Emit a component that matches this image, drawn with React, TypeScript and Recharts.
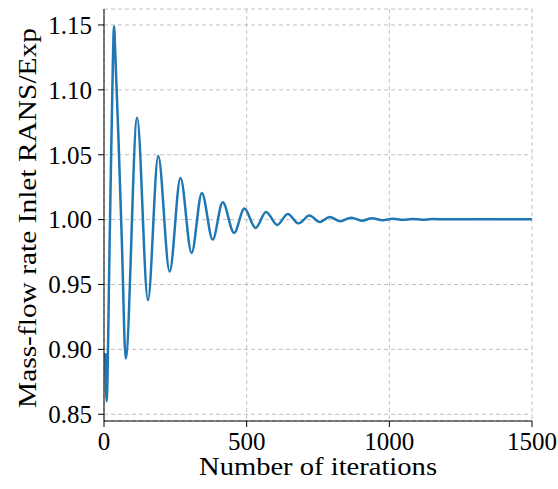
import React from 'react';
import { LineChart, Line, XAxis, YAxis, CartesianGrid } from 'recharts';

const iterations = [5, 9, 20, 31, 35, 40, 50, 63, 76, 116, 154, 190, 230, 268, 307, 343, 381, 416, 456, 492, 531, 568, 607, 644, 682, 720, 756, 791, 828, 866, 904, 939, 977, 1012, 1046, 1080, 1115, 1150, 1200, 1300, 1400, 1500];
const ratio = [0.897, 0.86, 0.985, 1.12, 1.149, 1.125, 1.067, 0.98, 0.893, 1.0785, 0.938, 1.049, 0.96, 1.032, 0.9743, 1.0206, 0.9846, 1.0134, 0.9897, 1.0085, 0.9936, 1.0059, 0.9959, 1.0044, 0.9971, 1.0031, 0.9982, 1.0021, 0.9987, 1.0015, 0.9992, 1.001, 0.9995, 1.0007, 0.9998, 1.0005, 0.9999, 1.0004, 1.0002, 1.0003, 1.0003, 1.0003];
const xTicks = [0, 500, 1000, 1500];
const yTicks = [0.85, 0.9, 0.95, 1.0, 1.05, 1.1, 1.15];

const xLabel = 'Number of iterations';
const yLabel = 'Mass-flow rate Inlet RANS/Exp';

const data = iterations.map((it, i) => ({ iter: it, ratio: ratio[i] }));

const FONT = '"Liberation Serif", serif';
const FS = 25;

const YLabel = () => {
  const cx = 36;
  const cy = 218;
  return (
    <text x={cx} y={cy} transform={`rotate(-90, ${cx}, ${cy})`} textAnchor="middle" fill="#000" fontFamily={FONT} fontSize={FS} textLength={380} lengthAdjust="spacingAndGlyphs">
      {yLabel}
    </text>
  );
};

const XLabel = () => {
  return (
    <text x={318} y={475} textAnchor="middle" fill="#000" fontFamily={FONT} fontSize={FS} textLength={238} lengthAdjust="spacingAndGlyphs">
      {xLabel}
    </text>
  );
};

export default function App() {
  return (
    <div style={{ position: 'absolute', left: 0, top: 0, background: '#fff' }}>
      <LineChart width={558} height={489} data={data} margin={{ top: 9, right: 26, bottom: 0, left: 0 }}>
        <CartesianGrid stroke="#b0b0b0" strokeWidth={0.8} strokeDasharray="4 3" />
        <XAxis
          dataKey="iter"
          type="number"
          domain={[0, 1500]}
          ticks={xTicks}
          height={68}
          tickSize={6}
          tickMargin={5}
          stroke="#000"
          tickLine={{ stroke: '#000' }}
          axisLine={{ stroke: '#000' }}
          tick={{ fill: '#000', fontSize: FS, fontFamily: FONT }}
          label={{ content: XLabel }}
          allowDataOverflow
        />
        <XAxis xAxisId="top" orientation="top" dataKey="iter" type="number" domain={[0, 1500]} height={0} tick={false} tickLine={false} axisLine={{ stroke: '#000' }} />
        <YAxis
          type="number"
          domain={[0.8448, 1.1623]}
          ticks={yTicks}
          width={104}
          tickSize={6}
          tickMargin={6}
          tickFormatter={(v: number) => v.toFixed(2)}
          tickLine={{ stroke: '#000' }}
          axisLine={{ stroke: '#000' }}
          tick={{ fill: '#000', fontSize: FS, fontFamily: FONT }}
          label={{ content: YLabel }}
          allowDataOverflow
        />
        <YAxis yAxisId="right" orientation="right" domain={[0.8448, 1.1623]} width={0} tick={false} tickLine={false} axisLine={{ stroke: '#000' }} />
        <Line type="monotone" dataKey="ratio" stroke="#1f77b4" strokeWidth={2.5} dot={false} isAnimationActive={false} />
      </LineChart>
    </div>
  );
}
